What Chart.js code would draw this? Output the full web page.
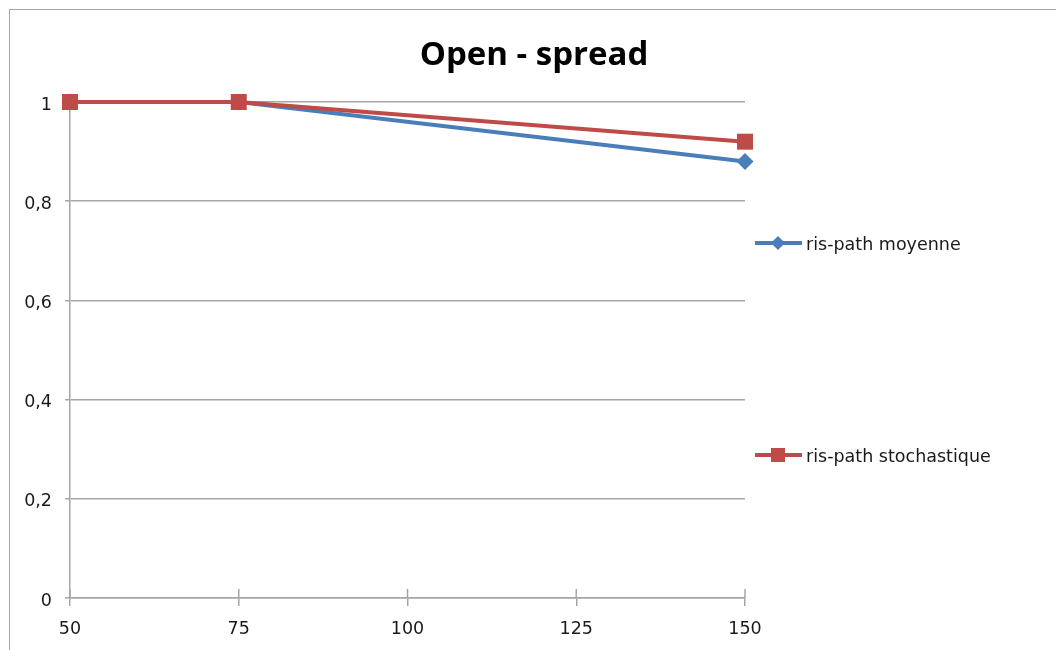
<!DOCTYPE html>
<html>
<head>
<meta charset="utf-8">
<script src="https://cdn.jsdelivr.net/npm/chart.js@4"></script>
<style>
  body { margin: 0; background: #fff; }
  #wrap { position: relative; width: 1056px; height: 650px; overflow: hidden; }
  #frame { position: absolute; left: 9px; top: 9px; width: 2000px; height: 2000px;
           border-left: 1px solid #a6a6a6; border-top: 1px solid #a6a6a6; }
  .leg { position: absolute; left: 755px; height: 20px; font: 17.5px "DejaVu Sans", sans-serif; color: #1a1a1a; }
  .leg .ln { position: absolute; left: 0; top: 8px; width: 47px; height: 4px; }
  .leg .mk { position: absolute; }
  .leg span { position: absolute; left: 51px; top: 1px; white-space: nowrap; }
</style>
</head>
<body>
<div id="wrap">
  <div id="frame"></div>
  <canvas id="myChart"></canvas>
  <div class="leg" style="top:233px">
    <div class="ln" style="background:#4a7ebb"></div>
    <div class="mk" style="left:18px;top:5px;width:10px;height:10px;background:#4a7ebb;transform:rotate(45deg)"></div>
    <span>ris-path moyenne</span>
  </div>
  <div class="leg" style="top:445px">
    <div class="ln" style="background:#be4b48"></div>
    <div class="mk" style="left:16px;top:3px;width:14px;height:14px;background:#be4b48"></div>
    <span>ris-path stochastique</span>
  </div>
</div>
<script>
const xValues = [50, 75, 150];
const moyenne = [1, 1, 0.88];
const stochastique = [1, 1, 0.92];

const canvas = document.getElementById('myChart');
canvas.width = 1056;
canvas.height = 650;
canvas.style.position = 'absolute';
canvas.style.left = '0px';
canvas.style.top = '0px';
const ctx = canvas.getContext('2d');

// title drawn on canvas, centered over the chart
const titlePlugin = {
    id: 'titleText',
    beforeDatasetsDraw(chart) {
        // x ticks cross the axis: add the inner half
        const xs = chart.scales.x;
        const c = chart.ctx;
        c.save();
        c.strokeStyle = '#a6a6a6';
        c.lineWidth = 1.5;
        xs.ticks.forEach(t => {
            const px = xs.getPixelForValue(t.value);
            c.beginPath();
            c.moveTo(px, xs.top - 9);
            c.lineTo(px, xs.top);
            c.stroke();
        });
        c.restore();
    },
    afterDraw(chart) {
        const c = chart.ctx;
        c.save();
        c.font = 'bold 33px "Open Sans", sans-serif';
        c.fillStyle = '#000';
        c.textAlign = 'center';
        c.textBaseline = 'alphabetic';
        c.fillText('Open - spread', 534, 65);
        c.restore();
    }
};

const myChart = new Chart(ctx, {
    type: 'line',
    data: {
        datasets: [{
                label: 'ris-path moyenne',
                data: xValues.map((x, i) => ({x: x, y: moyenne[i]})),
                fill: false,
                clip: false,
                borderColor: '#4a7ebb',
                backgroundColor: '#4a7ebb',
                borderWidth: 4,
                pointStyle: 'rectRot',
                pointRadius: 8.5,
                pointBorderWidth: 0,
                order: 1
            },
            {
                label: 'ris-path stochastique',
                data: xValues.map((x, i) => ({x: x, y: stochastique[i]})),
                fill: false,
                clip: false,
                borderColor: '#be4b48',
                backgroundColor: '#be4b48',
                borderWidth: 4,
                pointStyle: 'rect',
                pointRadius: 11.3,
                pointBorderWidth: 0,
                order: 0
            }
        ]
    },
    options: {
        responsive: false,
        animation: false,
        layout: {
            padding: { top: 102, right: 311, left: 0, bottom: 0 }
        },
        plugins: {
            legend: { display: false },
            tooltip: { enabled: false }
        },
        scales: {
            x: {
                type: 'linear',
                min: 50,
                max: 150,
                ticks: {
                    stepSize: 25,
                    padding: 13,
                    color: '#1a1a1a',
                    font: { family: '"DejaVu Sans", sans-serif', size: 17.5 }
                },
                grid: {
                    drawOnChartArea: false,
                    drawTicks: true,
                    tickLength: 8,
                    color: '#a6a6a6',
                    lineWidth: 1.5
                },
                border: { color: '#a6a6a6', width: 1.5 },
                afterFit(scale) { scale.height = 52; }
            },
            y: {
                min: 0,
                max: 1,
                ticks: {
                    stepSize: 0.2,
                    padding: 13,
                    labelOffset: 3,
                    color: '#1a1a1a',
                    font: { family: '"DejaVu Sans", sans-serif', size: 17.5 },
                    callback: v => String(Number(v.toFixed(1))).replace('.', ',')
                },
                grid: {
                    drawTicks: true,
                    tickLength: 5,
                    color: '#a6a6a6',
                    lineWidth: 1.5
                },
                border: { color: '#a6a6a6', width: 1.5 },
                afterFit(scale) { scale.width = 70; }
            }
        }
    },
    plugins: [titlePlugin]
});
</script>
</body>
</html>
